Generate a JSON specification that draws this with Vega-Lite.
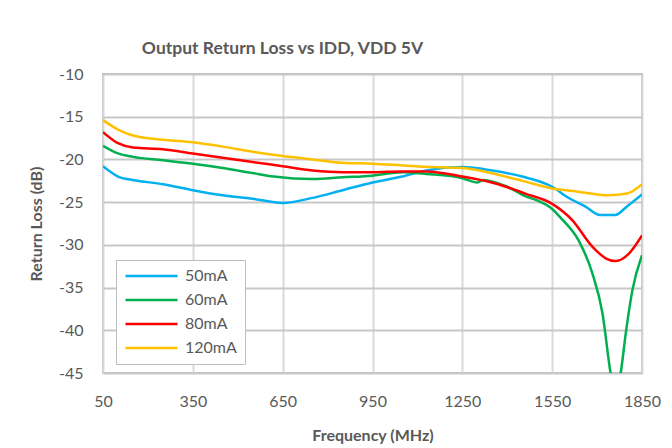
{
  "$schema": "https://vega.github.io/schema/vega-lite/v6.json",
  "autosize": {"type": "none"},
  "width": 539,
  "height": 299,
  "padding": {"left": 103, "top": 74, "right": 30, "bottom": 75},
  "background": "white",
  "title": {
    "text": "Output Return Loss vs IDD, VDD 5V",
    "font": "Lato", "fontSize": 17.5, "fontWeight": "bold", "color": "#595959",
    "anchor": "middle", "frame": "group", "dx": -90, "offset": -5, "baseline": "alphabetic"
  },
  "config": {
    "font": "Lato",
    "view": {"stroke": "#bfbfbf", "strokeWidth": 2},
    "axis": {"labelFont": "Lato", "titleFont": "Lato", "labelColor": "#595959", "titleColor": "#595959", "labelFontSize": 16, "titleFontSize": 16, "titleFontWeight": "bold", "domain": false, "ticks": false, "tickSize": 0}
  },
  "data": {"values": [
    {"f": 50, "v": -20.8, "s": "50mA"}, {"f": 100, "v": -22.0, "s": "50mA"}, {"f": 150, "v": -22.4, "s": "50mA"}, {"f": 250, "v": -22.9, "s": "50mA"}, {"f": 350, "v": -23.6, "s": "50mA"}, {"f": 450, "v": -24.2, "s": "50mA"}, {"f": 550, "v": -24.6, "s": "50mA"}, {"f": 650, "v": -25.1, "s": "50mA"}, {"f": 750, "v": -24.5, "s": "50mA"}, {"f": 850, "v": -23.6, "s": "50mA"}, {"f": 950, "v": -22.7, "s": "50mA"}, {"f": 1050, "v": -22.0, "s": "50mA"}, {"f": 1130, "v": -21.3, "s": "50mA"}, {"f": 1250, "v": -20.9, "s": "50mA"}, {"f": 1350, "v": -21.3, "s": "50mA"}, {"f": 1450, "v": -22.0, "s": "50mA"}, {"f": 1550, "v": -23.2, "s": "50mA"}, {"f": 1600, "v": -24.4, "s": "50mA"}, {"f": 1660, "v": -25.5, "s": "50mA"}, {"f": 1710, "v": -26.5, "s": "50mA"}, {"f": 1760, "v": -26.5, "s": "50mA"}, {"f": 1800, "v": -25.5, "s": "50mA"}, {"f": 1850, "v": -24.1, "s": "50mA"},
    {"f": 50, "v": -18.4, "s": "60mA"}, {"f": 100, "v": -19.3, "s": "60mA"}, {"f": 150, "v": -19.7, "s": "60mA"}, {"f": 250, "v": -20.1, "s": "60mA"}, {"f": 350, "v": -20.5, "s": "60mA"}, {"f": 450, "v": -21.0, "s": "60mA"}, {"f": 550, "v": -21.6, "s": "60mA"}, {"f": 620, "v": -22.0, "s": "60mA"}, {"f": 750, "v": -22.3, "s": "60mA"}, {"f": 850, "v": -22.1, "s": "60mA"}, {"f": 950, "v": -21.9, "s": "60mA"}, {"f": 1050, "v": -21.5, "s": "60mA"}, {"f": 1130, "v": -21.7, "s": "60mA"}, {"f": 1250, "v": -22.2, "s": "60mA"}, {"f": 1300, "v": -22.7, "s": "60mA"}, {"f": 1320, "v": -22.4, "s": "60mA"}, {"f": 1400, "v": -23.2, "s": "60mA"}, {"f": 1460, "v": -24.3, "s": "60mA"}, {"f": 1500, "v": -24.8, "s": "60mA"}, {"f": 1550, "v": -25.8, "s": "60mA"}, {"f": 1580, "v": -26.9, "s": "60mA"}, {"f": 1640, "v": -29.6, "s": "60mA"}, {"f": 1684, "v": -33.3, "s": "60mA"}, {"f": 1718, "v": -38.0, "s": "60mA"}, {"f": 1745, "v": -45.0, "s": "60mA"}, {"f": 1762, "v": -48.0, "s": "60mA"}, {"f": 1779, "v": -45.0, "s": "60mA"}, {"f": 1796, "v": -40.3, "s": "60mA"}, {"f": 1818, "v": -35.3, "s": "60mA"}, {"f": 1850, "v": -31.2, "s": "60mA"},
    {"f": 50, "v": -16.8, "s": "80mA"}, {"f": 100, "v": -18.1, "s": "80mA"}, {"f": 150, "v": -18.6, "s": "80mA"}, {"f": 250, "v": -18.8, "s": "80mA"}, {"f": 350, "v": -19.3, "s": "80mA"}, {"f": 450, "v": -19.8, "s": "80mA"}, {"f": 550, "v": -20.3, "s": "80mA"}, {"f": 650, "v": -20.8, "s": "80mA"}, {"f": 750, "v": -21.3, "s": "80mA"}, {"f": 850, "v": -21.5, "s": "80mA"}, {"f": 950, "v": -21.5, "s": "80mA"}, {"f": 1050, "v": -21.4, "s": "80mA"}, {"f": 1130, "v": -21.4, "s": "80mA"}, {"f": 1250, "v": -22.0, "s": "80mA"}, {"f": 1370, "v": -22.9, "s": "80mA"}, {"f": 1460, "v": -24.0, "s": "80mA"}, {"f": 1550, "v": -25.2, "s": "80mA"}, {"f": 1617, "v": -27.1, "s": "80mA"}, {"f": 1684, "v": -30.2, "s": "80mA"}, {"f": 1730, "v": -31.6, "s": "80mA"}, {"f": 1762, "v": -31.9, "s": "80mA"}, {"f": 1807, "v": -31.0, "s": "80mA"}, {"f": 1850, "v": -28.9, "s": "80mA"},
    {"f": 50, "v": -15.4, "s": "120mA"}, {"f": 100, "v": -16.5, "s": "120mA"}, {"f": 150, "v": -17.2, "s": "120mA"}, {"f": 250, "v": -17.7, "s": "120mA"}, {"f": 350, "v": -18.0, "s": "120mA"}, {"f": 450, "v": -18.5, "s": "120mA"}, {"f": 550, "v": -19.1, "s": "120mA"}, {"f": 650, "v": -19.6, "s": "120mA"}, {"f": 750, "v": -20.0, "s": "120mA"}, {"f": 850, "v": -20.4, "s": "120mA"}, {"f": 950, "v": -20.5, "s": "120mA"}, {"f": 1050, "v": -20.7, "s": "120mA"}, {"f": 1150, "v": -20.9, "s": "120mA"}, {"f": 1250, "v": -21.0, "s": "120mA"}, {"f": 1370, "v": -21.8, "s": "120mA"}, {"f": 1460, "v": -22.6, "s": "120mA"}, {"f": 1550, "v": -23.4, "s": "120mA"}, {"f": 1620, "v": -23.7, "s": "120mA"}, {"f": 1740, "v": -24.2, "s": "120mA"}, {"f": 1800, "v": -24.0, "s": "120mA"}, {"f": 1850, "v": -22.9, "s": "120mA"}
  ]},
  "mark": {"type": "line", "strokeWidth": 2.5, "clip": true, "interpolate": "monotone"},
  "encoding": {
    "x": {"field": "f", "type": "quantitative", "title": "Frequency (MHz)",
      "scale": {"domain": [50, 1850], "nice": false, "zero": false},
      "axis": {"values": [50, 350, 650, 950, 1250, 1550, 1850], "labelExpr": "'' + datum.value", "grid": true, "gridColor": "#d9d9d9", "gridWidth": 2, "labelPadding": 20, "titlePadding": 18, "labelFlush": false}},
    "y": {"field": "v", "type": "quantitative", "title": "Return Loss (dB)",
      "scale": {"domain": [-45, -10], "nice": false, "zero": false},
      "axis": {"values": [-45, -40, -35, -30, -25, -20, -15, -10], "labelExpr": "'' + datum.value", "grid": true, "gridColor": "#c8c8c8", "gridWidth": 2, "labelPadding": 20, "titlePadding": 14}},
    "color": {"field": "s", "type": "nominal",
      "scale": {"domain": ["50mA", "60mA", "80mA", "120mA"], "range": ["#00b0f0", "#00b050", "#ff0000", "#ffc000"]},
      "legend": {"title": null, "orient": "none", "legendX": 13, "legendY": 186, "symbolType": "stroke", "symbolSize": 2704, "symbolStrokeWidth": 2.5, "clipHeight": 16, "rowPadding": 8, "labelFontSize": 16, "labelFont": "Lato", "labelColor": "#595959", "strokeColor": "#bfbfbf", "fillColor": "white", "padding": 8, "labelOffset": 6}}
  }
}
